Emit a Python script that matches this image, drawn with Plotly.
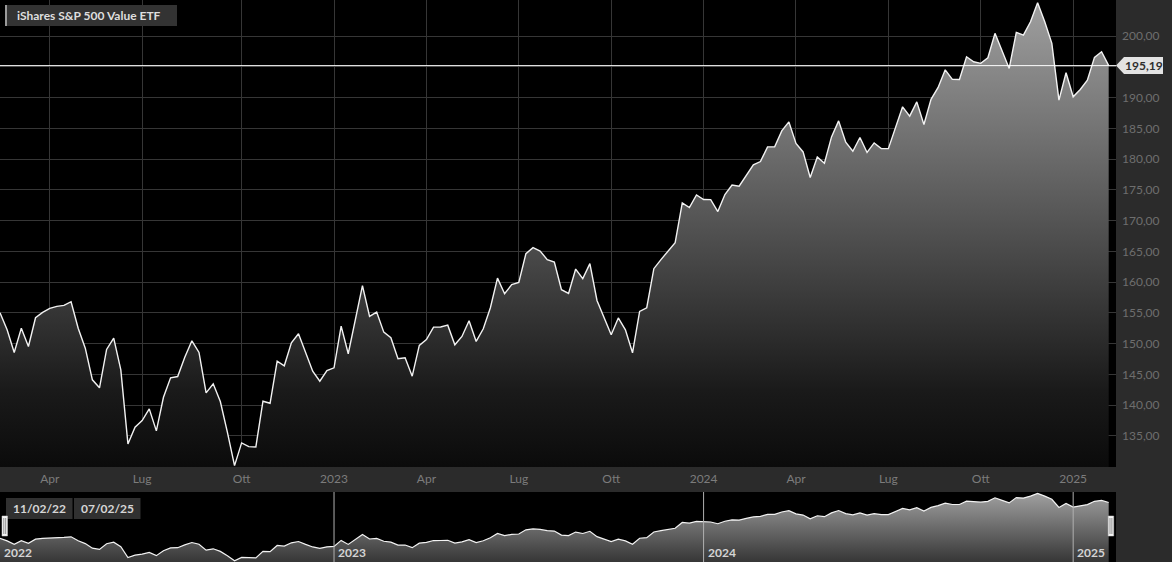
import pandas as pd
import plotly.graph_objects as go

# ---------------- data ----------------
dates = pd.date_range("2022-02-11", periods=157, freq="7D")
prices = [
    155.02, 152.25, 148.56, 152.51, 149.53, 154.21, 155.07, 155.72, 156.05, 156.21,
    156.81, 152.51, 149.26, 144.11, 142.81, 149.05, 150.89, 145.74, 133.69, 136.40,
    137.49, 139.39, 135.81, 141.28, 144.44, 144.65, 147.79, 150.46, 148.56, 142.00,
    143.46, 140.58, 135.58, 130.16, 133.86, 133.26, 133.20, 140.63, 140.30, 147.14,
    146.39, 150.14, 151.60, 148.44, 145.51, 143.89, 145.63, 146.07, 152.84, 148.35,
    153.88, 159.42, 154.42, 155.12, 151.86, 150.95, 147.53, 147.69, 144.70, 149.70,
    150.67, 152.68, 152.70, 153.00, 149.81, 151.16, 153.72, 150.35, 152.42, 155.83,
    160.65, 158.11, 159.58, 159.95, 164.63, 165.60, 165.05, 163.65, 163.26, 158.76,
    158.16, 162.12, 160.56, 163.00, 157.02, 154.21, 151.44, 154.17, 152.25, 148.51,
    155.23, 155.83, 162.18, 163.65, 165.00, 166.42, 172.86, 172.11, 174.16, 173.42,
    173.40, 171.46, 174.23, 175.79, 175.58, 177.42, 179.05, 179.60, 181.98, 182.00,
    184.58, 186.05, 182.53, 181.16, 177.00, 180.35, 179.33, 183.61, 186.21, 182.74,
    181.28, 183.51, 181.07, 182.63, 181.72, 181.70, 185.07, 188.49, 186.98, 189.30,
    185.62, 189.70, 191.65, 194.51, 192.95, 192.93, 196.63, 195.82, 195.56, 196.47,
    200.44, 197.61, 194.74, 200.60, 200.16, 202.33, 205.42, 202.33, 198.81, 189.58,
    194.03, 190.12, 191.32, 192.84, 196.53, 197.44, 195.19,
]
tick_dates = ["2022-04-01", "2022-07-01", "2022-10-07", "2023-01-06",
              "2023-04-07", "2023-07-07", "2023-10-06", "2024-01-05",
              "2024-04-05", "2024-07-05", "2024-10-04", "2025-01-03"]
tick_labels = ["Apr", "Lug", "Ott", "2023", "Apr", "Lug", "Ott", "2024",
               "Apr", "Lug", "Ott", "2025"]
year_dates = ["2022-02-11", "2023-01-06", "2024-01-05", "2025-01-03"]
year_labels = ["2022", "2023", "2024", "2025"]
y_ticks = [135, 140, 145, 150, 155, 160, 165, 170, 175, 180, 185, 190, 195, 200]
title = "iShares S&P 500 Value ETF"

# ---------------- layout constants (pixels) ----------------
W, H = 1172, 562
PW = 1116          # plot width
MAIN_H = 467       # main plot height
NAV_TOP = 492      # navigator top
FONT = "Lato"

def px_x(p):
    return p / PW

def px_y(p):
    return 1 - p / H

def fmt(v):
    return f"{v:.2f}".replace(".", ",")

x_range = [dates[0], dates[-1] + pd.Timedelta(days=7.2)]
last = prices[-1]
last_txt = fmt(last)
# the tick label hidden behind the last-price flag is left blank
y_ticktext = ["" if abs(v - last) < 2.5 else fmt(v) for v in y_ticks]

fig = go.Figure()

fig.add_trace(go.Scatter(
    x=dates, y=prices, mode="lines",
    line=dict(color="#f2f2f2", width=1.4),
    fill="tozeroy",
    fillgradient=dict(type="vertical", start=129.94, stop=205.86,
                      colorscale=[[0, "#0b0b0b"], [0.164, "#1a1a1a"], [1, "#a0a0a0"]]),
    hoverinfo="skip", xaxis="x", yaxis="y",
))

fig.add_trace(go.Scatter(
    x=dates, y=prices, mode="lines",
    line=dict(color="#f2f2f2", width=1.2),
    fill="tozeroy",
    fillgradient=dict(type="vertical", start=128.7, stop=206.9,
                      colorscale=[[0, "#363636"], [1, "#a2a2a2"]]),
    hoverinfo="skip", xaxis="x2", yaxis="y2",
))

shapes = [
    # right axis panel
    dict(type="rect", xref="paper", yref="paper", x0=1, x1=W / PW, y0=0, y1=1,
         fillcolor="#2b2b2b", line=dict(width=0), layer="below"),
    # x-axis label band
    dict(type="rect", xref="paper", yref="paper", x0=0, x1=1,
         y0=px_y(NAV_TOP), y1=px_y(MAIN_H), fillcolor="#2b2b2b",
         line=dict(width=0), layer="below"),
    # last price line
    dict(type="line", xref="paper", yref="y", x0=0, x1=1, y0=last, y1=last,
         line=dict(color="#ffffff", width=1), layer="above"),
    # title box
    dict(type="rect", xref="paper", yref="paper", x0=px_x(5), x1=px_x(177),
         y0=px_y(26), y1=px_y(5), fillcolor="#333333", line=dict(width=0)),
    dict(type="rect", xref="paper", yref="paper", x0=px_x(5), x1=px_x(7),
         y0=px_y(26), y1=px_y(5), fillcolor="#9a9a9a", line=dict(width=0)),
    # navigator date boxes
    dict(type="rect", xref="paper", yref="paper", x0=px_x(6), x1=px_x(72.5),
         y0=px_y(519), y1=px_y(498), fillcolor="#303030", line=dict(width=0)),
    dict(type="rect", xref="paper", yref="paper", x0=px_x(74), x1=px_x(140.5),
         y0=px_y(519), y1=px_y(498), fillcolor="#303030", line=dict(width=0)),
]

# last value pointer label
shapes.append(dict(
    type="path", xref="paper", yref="paper",
    path=(f"M 1,{px_y(65.5)} L {px_x(1124)},{px_y(57)} L {px_x(1163)},{px_y(57)} "
          f"L {px_x(1163)},{px_y(74)} L {px_x(1124)},{px_y(74)} Z"),
    fillcolor="#e3e3e3", line=dict(width=0), layer="above"))

# navigator year lines
for d in year_dates[1:]:
    shapes.append(dict(type="line", xref="x2", yref="y2 domain", x0=d, x1=d,
                       y0=0, y1=1, line=dict(color="#b0b0b0", width=1), layer="above"))

# navigator handles
for anchor, (a, b) in [(dates[0], (2, 7.5)), (dates[-1], (-0.5, 5))]:
    shapes.append(dict(type="rect", xref="x2", xsizemode="pixel", xanchor=anchor,
                       x0=a, x1=b, yref="paper", y0=px_y(536), y1=px_y(516),
                       fillcolor="#f4f4f4", line=dict(color="#cccccc", width=0.5),
                       layer="above"))
    for off in (a + 1.8, a + 3.7):
        shapes.append(dict(type="line", xref="x2", xsizemode="pixel", xanchor=anchor,
                           x0=off, x1=off, yref="paper", y0=px_y(534), y1=px_y(518),
                           line=dict(color="#777777", width=0.8), layer="above"))

annotations = [
    dict(xref="paper", yref="paper", x=px_x(15), y=px_y(15.5), xanchor="left",
         yanchor="middle", text=f"<b>{title}</b>", showarrow=False,
         font=dict(family=FONT, size=12, color="#dedede")),
    dict(xref="paper", yref="paper", x=px_x(1143.5), y=px_y(65.5), xanchor="center",
         yanchor="middle", text=f"<b>{last_txt}</b>", showarrow=False,
         font=dict(family=FONT, size=12, color="#2e2e2e")),
    dict(xref="paper", yref="paper", x=px_x(39.3), y=px_y(508.5), xanchor="center",
         yanchor="middle", text=f"<b>{dates[0].strftime('%d/%m/%y')}</b>", showarrow=False,
         font=dict(family=FONT, size=12, color="#d6d6d6")),
    dict(xref="paper", yref="paper", x=px_x(107.3), y=px_y(508.5), xanchor="center",
         yanchor="middle", text=f"<b>{dates[-1].strftime('%d/%m/%y')}</b>", showarrow=False,
         font=dict(family=FONT, size=12, color="#d6d6d6")),
]
for d, lab in zip(year_dates, year_labels):
    annotations.append(dict(
        xref="x2", yref="paper", x=d, y=px_y(552), xanchor="left", yanchor="middle",
        xshift=2, text=f"<b>{lab}</b>", showarrow=False,
        font=dict(family=FONT, size=12, color="#d4d4d4")))

fig.update_layout(
    width=W, height=H,
    margin=dict(l=0, r=W - PW, t=0, b=0, pad=0),
    paper_bgcolor="#000000", plot_bgcolor="#000000",
    showlegend=False, hovermode=False,
    separators=",.",
    font=dict(family=FONT),
    xaxis=dict(type="date", range=x_range, domain=[0, 1], anchor="y",
               tickvals=tick_dates, ticktext=tick_labels, ticks="",
               showgrid=True, gridcolor="#363636", gridwidth=1,
               zeroline=False, showline=False, automargin=False,
               tickfont=dict(family=FONT, size=12, color="#7c7c7c"),
               ticklabelstandoff=3),
    yaxis=dict(range=[129.94, 205.86], domain=[px_y(MAIN_H), 1], anchor="x",
               side="right", tickvals=y_ticks, ticktext=y_ticktext, ticks="",
               showgrid=True, gridcolor="#363636", gridwidth=1,
               zeroline=False, showline=False, automargin=False,
               tickfont=dict(family=FONT, size=12, color="#6e6e6e"),
               ticklabelstandoff=5),
    xaxis2=dict(type="date", range=x_range, domain=[0, 1], anchor="y2",
                showticklabels=False, showgrid=False, zeroline=False,
                showline=False, ticks=""),
    yaxis2=dict(range=[128.7, 206.9], domain=[0, px_y(NAV_TOP)], anchor="x2",
                showticklabels=False, showgrid=False, zeroline=False,
                showline=False, ticks=""),
    shapes=shapes,
    annotations=annotations,
)

fig.write_html(
    "out.html",
    config={"displayModeBar": False},
    post_script="document.body.style.margin='0';document.body.style.background='#000';",
)
